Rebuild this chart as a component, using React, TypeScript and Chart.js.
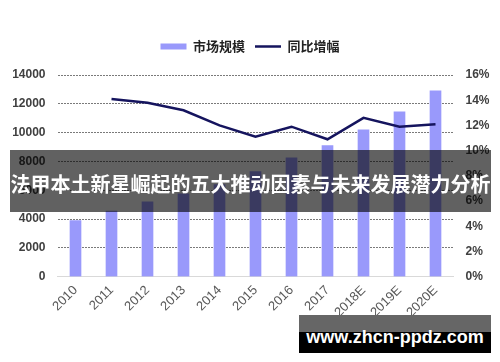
import React, { useEffect, useRef } from 'react';
import { Chart, registerables } from 'chart.js';

Chart.register(...registerables);

const categories = ['2010', '2011', '2012', '2013', '2014', '2015', '2016', '2017', '2018E', '2019E', '2020E'];
const marketSize = [3900, 4550, 5200, 5750, 6400, 7300, 8250, 9100, 10200, 11450, 12900];
const yoyGrowth = [null, 14.1, 13.8, 13.2, 12.0, 11.1, 11.9, 10.9, 12.6, 11.9, 12.1];
const leftMax = 14000;
const leftStep = 2000;
const rightMax = 16;
const rightStep = 2;
const seriesNames = ['市场规模', '同比增幅'];
const bannerTitle = '法甲本土新星崛起的五大推动因素与未来发展潜力分析';
const watermark = 'www.zhcn-ppdz.com';

const BAR_COLOR = '#9999fb';
const LINE_COLOR = '#15145e';

const legendSpacer = {
  id: 'legendSpacer',
  beforeUpdate(chart: any) {
    const legend = chart.legend;
    if (legend && !legend.__patched) {
      const orig = legend.fit;
      legend.fit = function () {
        orig.call(this);
        this.height += 12;
      };
      legend.__patched = true;
    }
  },
};

export default function App() {
  const ref = useRef<HTMLCanvasElement | null>(null);

  useEffect(() => {
    if (!ref.current) return;
    const chart = new Chart(ref.current, {
      type: 'bar',
      data: {
        labels: categories,
        datasets: [
          {
            type: 'bar',
            label: seriesNames[0],
            data: marketSize,
            backgroundColor: BAR_COLOR,
            borderWidth: 0,
            barThickness: 11,
            yAxisID: 'y',
            order: 2,
          },
          {
            type: 'line',
            label: seriesNames[1],
            data: yoyGrowth as any,
            borderColor: LINE_COLOR,
            backgroundColor: LINE_COLOR,
            borderWidth: 2.5,
            pointRadius: 0,
            tension: 0,
            yAxisID: 'y1',
            order: 1,
          },
        ],
      },
      options: {
        responsive: false,
        animation: false,
        layout: { padding: { top: 30, left: 0, right: 0, bottom: 0 } },
        plugins: {
          tooltip: { enabled: false },
          legend: {
            display: true,
            position: 'top',
            labels: {
              usePointStyle: true,
              pointStyleWidth: 26,
              boxHeight: 6,
              padding: 10,
              color: '#222222',
              font: { family: '"Noto Sans CJK SC", sans-serif', size: 13, weight: 'bold' },
              sort: (a: any, b: any) => a.datasetIndex - b.datasetIndex,
              generateLabels: (c: any) =>
                c.data.datasets.map((ds: any, i: number) => ({
                  text: ds.label,
                  datasetIndex: i,
                  fillStyle: i === 0 ? BAR_COLOR : LINE_COLOR,
                  strokeStyle: i === 0 ? BAR_COLOR : LINE_COLOR,
                  lineWidth: i === 0 ? 0 : 2.5,
                  pointStyle: i === 0 ? 'rect' : 'line',
                  hidden: false,
                  fontColor: '#222222',
                })),
            },
          },
        },
        scales: {
          x: {
            grid: { display: false, drawTicks: false },
            border: { display: true, color: '#d9d9d9', width: 1 },
            ticks: {
              autoSkip: false,
              minRotation: 45,
              maxRotation: 45,
              padding: 6,
              color: '#595959',
              font: { family: '"Liberation Sans", Arial, sans-serif', size: 13 },
            },
            afterFit: (s: any) => {
              s.height = 85.3;
            },
          },
          y: {
            position: 'left',
            min: 0,
            max: leftMax,
            ticks: {
              stepSize: leftStep,
              padding: 12,
              color: '#404040',
              font: { family: '"Liberation Sans", Arial, sans-serif', size: 12, weight: 'bold' },
              callback: (v: any) => String(v),
            },
            grid: {
              drawTicks: false,
              lineWidth: 1,
              color: (ctx: any) => (ctx.tick && ctx.tick.value === 0 ? 'rgba(0,0,0,0)' : '#7a7a7a'),
            },
            border: { display: false, dash: [2, 1] },
            afterFit: (s: any) => {
              s.width = 57.5;
            },
          },
          y1: {
            position: 'right',
            min: 0,
            max: rightMax,
            ticks: {
              stepSize: rightStep,
              padding: 12,
              color: '#404040',
              font: { family: '"Liberation Sans", Arial, sans-serif', size: 12, weight: 'bold' },
              callback: (v: any) => v + '%',
            },
            grid: { drawOnChartArea: false, drawTicks: false },
            border: { display: false },
            afterFit: (s: any) => {
              s.width = 46.5;
            },
          },
        },
      },
      plugins: [legendSpacer],
    });
    return () => chart.destroy();
  }, []);

  return (
    <div style={{ position: 'absolute', left: 0, top: 0, width: 500, height: 362, background: '#ffffff', overflow: 'hidden' }}>
      <canvas ref={ref} width={500} height={362} style={{ display: 'block', width: 500, height: 362 }} />
      <div
        style={{
          position: 'absolute',
          left: 10,
          top: 150,
          width: 481,
          height: 62,
          background: 'rgba(0,0,0,0.62)',
          color: '#ffffff',
          fontFamily: '"Noto Sans CJK SC", sans-serif',
          fontWeight: 'bold',
          fontSize: 20,
          lineHeight: '62px',
          textAlign: 'center',
          whiteSpace: 'nowrap',
          paddingTop: 3,
          boxSizing: 'border-box',
        }}
      >
        {bannerTitle}
      </div>
      <div
        style={{
          position: 'absolute',
          left: 299,
          top: 315,
          width: 192,
          height: 38,
          background: 'linear-gradient(#666666 0px, #666666 17px, #000000 17px, #000000 38px)',
          color: '#ffffff',
          fontFamily: '"Liberation Sans", Arial, sans-serif',
          fontWeight: 'bold',
          fontSize: 18,
          lineHeight: '38px',
          textAlign: 'center',
          whiteSpace: 'nowrap',
          paddingTop: 3,
          boxSizing: 'border-box',
        }}
      >
        {watermark}
      </div>
    </div>
  );
}
